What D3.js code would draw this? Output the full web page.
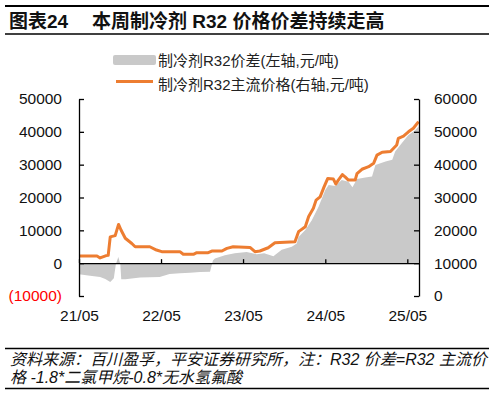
<!DOCTYPE html>
<html>
<head>
<meta charset="utf-8">
<script src="https://cdn.jsdelivr.net/npm/d3@7"></script>
<style>
    body { margin: 0; background: #fff; }
    svg { font-family: "Liberation Sans", Arial, "Noto Sans CJK SC", sans-serif; }
</style>
</head>
<body>
<svg id="chart"></svg>
<script>
// R32 mainstream price (right axis, yuan/t)
const priceDates = ["2021-05-01", "2021-07-20", "2021-08-03", "2021-08-30", "2021-09-08", "2021-09-17",
    "2021-10-09", "2021-10-24", "2021-11-04", "2021-11-23", "2021-12-22", "2022-01-06", "2022-03-12",
    "2022-04-11", "2022-05-04", "2022-07-24", "2022-08-08", "2022-09-22", "2022-10-07", "2022-11-27",
    "2022-12-13", "2023-01-27", "2023-02-18", "2023-03-18", "2023-06-01", "2023-06-23", "2023-07-15",
    "2023-08-21", "2023-09-20", "2023-12-18", "2024-01-03", "2024-02-02", "2024-02-17", "2024-03-09",
    "2024-03-21", "2024-04-08", "2024-04-26", "2024-05-12", "2024-06-06", "2024-06-17", "2024-06-28",
    "2024-07-16", "2024-07-28", "2024-08-12", "2024-09-11", "2024-09-19", "2024-10-11", "2024-11-10",
    "2024-12-02", "2024-12-17", "2025-01-09", "2025-02-15", "2025-03-01", "2025-03-15", "2025-03-22",
    "2025-04-14", "2025-05-06", "2025-05-28", "2025-06-20"];
const priceValues = [12200, 12200, 11600, 12300, 12400, 18000,
    18400, 21800, 20100, 17600, 16000, 15000, 15000,
    14000, 13500, 13500, 12700, 12700, 13200, 13200,
    13700, 13700, 14500, 15000, 14800, 13500, 13700,
    14700, 16200, 16500, 19600, 21100, 24200, 26700,
    29200, 30200, 33300, 35800, 35600, 34100, 35300,
    37000, 36300, 35300, 35300, 37300, 38600, 39400,
    40400, 42900, 43800, 44000, 45000, 46000, 48000,
    48700, 50000, 51100, 53100];

// R32 spread (left axis, yuan/t)
const spreadDates = ["2021-05-01", "2021-06-19", "2021-08-03", "2021-08-26", "2021-09-17", "2021-10-03",
    "2021-10-12", "2021-10-23", "2021-11-01", "2021-11-05", "2021-11-23", "2022-01-28", "2022-04-25",
    "2022-06-08", "2022-07-24", "2022-09-07", "2022-10-22", "2022-12-05", "2022-12-18", "2022-12-27",
    "2023-02-09", "2023-03-25", "2023-05-17", "2023-07-01", "2023-08-03", "2023-09-13", "2023-10-20",
    "2023-12-04", "2023-12-26", "2024-01-03", "2024-02-02", "2024-03-02", "2024-04-01", "2024-05-01",
    "2024-05-16", "2024-06-15", "2024-07-13", "2024-08-12", "2024-08-30", "2024-09-19", "2024-10-26",
    "2024-11-25", "2024-12-10", "2025-01-24", "2025-02-23", "2025-03-08", "2025-04-07", "2025-05-06",
    "2025-06-05", "2025-06-20"];
const spreadValues = [-3400, -3800, -4200, -4800, -5700, -4600,
    -300, 1900, -300, -4900, -4900, -4400, -4200,
    -3300, -3100, -2900, -2700, -2650, 800, 1400,
    2400, 3000, 3400, 2700, 3000, 2100, 4100,
    5000, 6000, 8000, 10100, 13100, 17200, 22300,
    23800, 23500, 25300, 24800, 23100, 25600, 26100,
    26400, 29900, 31000, 31500, 34000, 36600, 39000,
    40500, 41600];

const xTickDates = ["2021-05-01", "2022-05-01", "2023-05-01", "2024-05-01", "2025-05-01"];
const xTickLabels = ["21/05", "22/05", "23/05", "24/05", "25/05"];
const leftTicks = [-10000, 0, 10000, 20000, 30000, 40000, 50000];
const rightTicks = [0, 10000, 20000, 30000, 40000, 50000, 60000];

const seriesNames = ["制冷剂R32价差(左轴,元/吨)", "制冷剂R32主流价格(右轴,元/吨)"];
const titleText = ["图表24", "本周制冷剂 R32 价格价差持续走高"];
const noteLines = ["资料来源：百川盈孚，平安证券研究所，注：R32 价差=R32 主流价",
    "格 -1.8*二氯甲烷-0.8*无水氢氟酸"];

class DualAxisChart {
    plot = { left: 79, right: 419, top: 99, bottom: 296 }

    constructor(svg, width = 495, height = 395) {
        this.svg = d3.select(svg);
        this.width = width;
        this.height = height;
        this.parse = d3.timeParse("%Y-%m-%d");
    }

    initialize() {
        const p = this.plot;
        this.svg.attr("width", this.width).attr("height", this.height);

        this.x = d3.scaleTime()
            .domain([this.parse("2021-05-01"), this.parse("2025-06-22")])
            .range([p.left, p.right]);
        this.yLeft = d3.scaleLinear().domain([-10000, 50000]).range([p.bottom, p.top]);
        this.yRight = d3.scaleLinear().domain([0, 60000]).range([p.bottom, p.top]);

        this.drawFrame();
        this.drawSeries();
        this.drawAxes();
        this.drawLegend();
    }

    drawFrame() {
        // title with rules above and below
        this.svg.append("line").attr("x1", 5).attr("x2", 489).attr("y1", 6).attr("y2", 6)
            .attr("stroke", "#000").attr("stroke-width", 2);
        this.svg.append("line").attr("x1", 5).attr("x2", 489).attr("y1", 34).attr("y2", 34)
            .attr("stroke", "#000").attr("stroke-width", 1.5);
        const title = this.svg.append("text")
            .attr("y", 28)
            .attr("font-size", 19)
            .attr("font-weight", "bold")
            .attr("fill", "#111");
        title.append("tspan").attr("x", 9).text(titleText[0]);
        title.append("tspan").attr("x", 92).text(titleText[1]);

        // source note
        this.svg.append("line").attr("x1", 5).attr("x2", 489).attr("y1", 348.5).attr("y2", 348.5)
            .attr("stroke", "#000").attr("stroke-width", 1.5);
        this.svg.append("line").attr("x1", 5).attr("x2", 489).attr("y1", 388.5).attr("y2", 388.5)
            .attr("stroke", "#000").attr("stroke-width", 1.5);
        this.svg.selectAll(".note")
            .data(noteLines)
            .join("text")
            .attr("class", "note")
            .attr("x", 10)
            .attr("y", (d, i) => 365 + i * 18)
            .attr("font-size", 16)
            .attr("font-style", "italic")
            .attr("fill", "#111")
            .text(d => d);
    }

    drawSeries() {
        const spread = spreadDates.map((d, i) => ({ date: this.parse(d), value: spreadValues[i] }));
        const price = priceDates.map((d, i) => ({ date: this.parse(d), value: priceValues[i] }));

        const area = d3.area()
            .x(d => this.x(d.date))
            .y0(this.yLeft(0))
            .y1(d => this.yLeft(d.value));
        this.svg.append("path")
            .datum(spread)
            .attr("d", area)
            .attr("fill", "#c9c9c9");

        const line = d3.line()
            .x(d => this.x(d.date))
            .y(d => this.yRight(d.value));
        this.svg.append("path")
            .datum(price)
            .attr("d", line)
            .attr("fill", "none")
            .attr("stroke", "#ED7D31")
            .attr("stroke-width", 3)
            .attr("stroke-linejoin", "round");
    }

    drawAxes() {
        const p = this.plot;
        const fmtLeft = v => v < 0 ? `(${Math.abs(v)})` : `${v}`;

        const xAxis = d3.axisBottom(this.x)
            .tickValues(xTickDates.map(this.parse))
            .tickFormat((d, i) => xTickLabels[i])
            .tickSizeInner(-4)
            .tickSizeOuter(0)
            .tickPadding(47);
        const xg = this.svg.append("g")
            .attr("transform", `translate(0, ${this.yLeft(0)})`)
            .call(xAxis);

        const leftAxis = d3.axisLeft(this.yLeft)
            .tickValues(leftTicks)
            .tickFormat(fmtLeft)
            .tickSizeInner(-5)
            .tickSizeOuter(0)
            .tickPadding(17);
        const lg = this.svg.append("g")
            .attr("transform", `translate(${p.left}, 0)`)
            .call(leftAxis);
        lg.selectAll(".tick text").attr("fill", d => d < 0 ? "#ff0000" : "#111");

        const rightAxis = d3.axisRight(this.yRight)
            .tickValues(rightTicks)
            .tickFormat(d => `${d}`)
            .tickSizeInner(-5)
            .tickSizeOuter(0)
            .tickPadding(15);
        const rg = this.svg.append("g")
            .attr("transform", `translate(${p.right}, 0)`)
            .call(rightAxis);
        rg.selectAll(".tick text").attr("fill", "#111");

        this.svg.selectAll(".domain, .tick line")
            .attr("stroke", "#000")
            .attr("stroke-width", 1.3);
        this.svg.selectAll(".tick text")
            .attr("font-size", 15.5)
            .attr("font-family", "'Liberation Sans', Arial, sans-serif");
        xg.selectAll(".tick text").attr("fill", "#111");
    }

    drawLegend() {
        const g = this.svg.append("g");
        g.append("rect")
            .attr("x", 113).attr("y", 55)
            .attr("width", 43).attr("height", 10)
            .attr("rx", 2)
            .attr("fill", "#c9c9c9");
        g.append("line")
            .attr("x1", 116).attr("x2", 153)
            .attr("y1", 81.5).attr("y2", 81.5)
            .attr("stroke", "#ED7D31")
            .attr("stroke-width", 3);
        g.selectAll("text")
            .data(seriesNames)
            .join("text")
            .attr("x", 158)
            .attr("y", (d, i) => 65.5 + i * 24.5)
            .attr("font-size", 15)
            .attr("fill", "#222")
            .text(d => d);
    }
}

const chart = new DualAxisChart(document.getElementById("chart"));
chart.initialize();
</script>
</body>
</html>
